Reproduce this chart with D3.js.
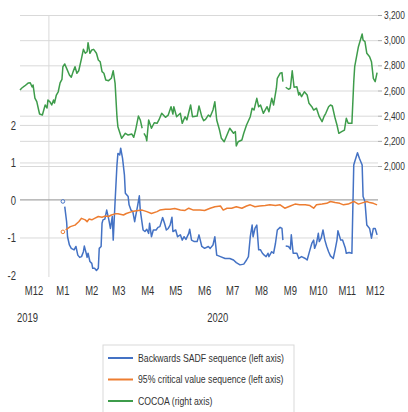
<!DOCTYPE html>
<html>
<head>
<meta charset="utf-8">
<script src="https://cdn.jsdelivr.net/npm/d3@7"></script>
<style>
  body { margin: 0; background: #fff; }
  text { font-family: "Liberation Sans", Arial, sans-serif; fill: #333; }
</style>
</head>
<body>
<div id="chart"></div>
<script>

// day numbers count from 1 Dec 2019
var origin = new Date(2019, 11, 1)
var lastDay = new Date(2020, 11, 19)

var monthLabels = ["M12","M1","M2","M3","M4","M5","M6","M7","M8","M9","M10","M11","M12"]
var monthTicks = ["2019-12-16","2020-01-16","2020-02-16","2020-03-16","2020-04-16","2020-05-16",
                  "2020-06-16","2020-07-16","2020-08-16","2020-09-16","2020-10-16","2020-11-16","2020-12-16"]
var yearLabels = ["2019","2020"]
var yearTicks = ["2019-12-09","2020-06-30"]
var yearBreak = "2020-01-01"

var leftTicks = [-2,-1,0,1,2]
var rightTicks = [2000,2200,2400,2600,2800,3000,3200]

var seriesNames = ["Backwards SADF sequence (left axis)","95% critical value sequence (left axis)","COCOA (right axis)"]

// Backwards SADF sequence, [day, value]
var sadf = [[46,-0.04],[47,null],[48,-0.18],[50,-0.58],[51,-0.98],[53,-1.2],[55,-1.29],[58,-1.33],[60,-1.24],
  [62,-1.47],[64,-1.53],[66,-1.51],[68,-1.38],[69,-1.23],[71,-1.42],[72,-1.53],[73,-1.42],[75,-1.64],[77,-1.69],
  [78,-1.82],[80,-1.82],[82,-1.88],[84,-1.82],[85,-1.29],[87,-1.24],[88,-0.62],[89,-0.53],[91,-0.51],[93,-0.27],
  [95,-0.49],[97,-0.76],[99,-0.44],[100,-1.07],[102,-0.04],[104,0.93],[105,1.24],[107,1.2],[108,1.38],[110,1.11],
  [112,0.67],[113,0.18],[116,0.09],[117,-0.13],[119,-0.27],[121,-0.31],[123,-0.58],[124,-0.44],[126,-0.18],
  [128,0.11],[129,-0.27],[132,-0.8],[134,-0.84],[136,-0.78],[138,-0.89],[139,-0.62],[141,-0.98],[143,-0.8],
  [146,-0.8],[148,-0.73],[150,-0.71],[153,-0.47],[155,-0.62],[157,-0.8],[159,-0.76],[161,-0.67],[163,-0.46],
  [164,-0.84],[167,-0.8],[169,-0.98],[172,-0.93],[174,-1.07],[176,-0.98],[178,-1.05],[181,-0.89],[182,-0.78],
  [184,-1.07],[187,-1.11],[190,-1.11],[192,-0.93],[195,-1.24],[198,-1.29],[202,-1.24],[204,-1.29],[207,-1.2],
  [209,-0.98],[211,-1.47],[215,-1.51],[220,-1.56],[225,-1.56],[229,-1.6],[232,-1.67],[236,-1.73],[240,-1.71],
  [243,-1.6],[245,-1.51],[247,-0.98],[249,-0.67],[250,-0.98],[252,-0.76],[254,-0.67],[256,-1.33],[258,-1.33],
  [260,-1.42],[262,-1.47],[264,-1.51],[266,-1.42],[267,-1.51],[270,-1.38],[272,-1.42],[274,-1.16],[276,-0.8],
  [279,-0.73],[281,-0.76],[282,-1.07],[283,null],[285,-1.23],[288,-1.24],[290,-1.31],[291,-0.93],[293,-1.42],
  [297,-1.42],[299,-1.56],[302,-1.51],[306,-1.56],[308,-1.6],[311,-1.33],[313,-1.16],[315,-1.07],[316,-1.29],
  [318,-1.16],[320,-0.89],[321,-1.11],[323,-1.02],[325,-0.8],[327,-1.07],[329,-1.24],[331,-1.38],[333,-1.49],
  [336,-1.56],[338,-1.33],[340,-1.07],[341,-0.82],[344,-1.07],[346,-1.07],[349,-1.29],[350,-1.42],[353,-1.4],
  [356,-1.42],[358,0.93],[359,1.02],[362,1.26],[364,1.11],[367,0.93],[368,0.09],[370,-0.04],[372,-0.67],
  [375,-0.76],[377,-1.02],[379,-0.76],[381,-0.76],[383,-0.93]]

// 95% critical value sequence, [day, value]
var critical = [[46,-0.85],[47,null],[49,-0.8],[54,-0.71],[59,-0.67],[63,-0.58],[66,-0.49],[70,-0.53],[72,-0.58],
  [74,-0.51],[77,-0.53],[80,-0.49],[84,-0.44],[88,-0.46],[91,-0.43],[95,-0.44],[98,-0.4],[102,-0.37],[105,-0.37],
  [111,-0.4],[114,-0.36],[120,-0.31],[125,-0.29],[131,-0.27],[136,-0.31],[141,-0.36],[147,-0.31],[150,-0.27],
  [156,-0.25],[161,-0.25],[166,-0.23],[172,-0.27],[177,-0.28],[181,-0.22],[186,-0.27],[191,-0.27],[193,-0.27],
  [198,-0.28],[204,-0.22],[209,-0.18],[215,-0.16],[218,-0.27],[222,-0.22],[227,-0.22],[232,-0.18],[238,-0.22],
  [243,-0.16],[247,-0.13],[252,-0.18],[257,-0.16],[263,-0.15],[268,-0.13],[274,-0.15],[279,-0.13],[284,-0.22],
  [290,-0.16],[295,-0.11],[300,-0.13],[306,-0.13],[311,-0.15],[315,-0.22],[318,-0.13],[324,-0.11],[329,-0.09],
  [333,-0.04],[338,-0.07],[343,-0.09],[347,-0.13],[352,-0.11],[358,-0.04],[363,-0.11],[368,-0.07],[372,-0.04],
  [375,-0.07],[379,-0.09],[383,-0.13]]

// COCOA price, [day, value]
var cocoa = [[0,2604],[2,2620],[5,2636],[9,2660],[11,2662],[13,2628],[14,2644],[16,2540],[18,2511],[20,2445],
  [21,2413],[24,2405],[27,2485],[29,2461],[30,2525],[32,2511],[34,2485],[36,2525],[37,2500],[39,2564],[41,2590],
  [43,2660],[45,2689],[46,2789],[48,2811],[50,2776],[53,2723],[55,2705],[57,2750],[59,2789],[61,2737],[63,2757],
  [66,2856],[68,2927],[70,2896],[72,2908],[73,2980],[75,2896],[77,2922],[79,2927],[82,2896],[84,2843],[86,2829],
  [88,2750],[90,2737],[92,2683],[95,2678],[98,2697],[100,2757],[102,2657],[104,2392],[105,2312],[109,2220],
  [113,2260],[116,2246],[120,2254],[122,2228],[124,2286],[127,2397],[129,2366],[131,2300],[132,null],[133,2260],
  [135,2233],[136,2201],[138,2366],[141,2300],[144,2344],[147,2339],[149,2366],[152,2419],[156,2387],[159,2405],
  [162,2471],[164,2413],[165,2471],[168,2392],[172,2419],[174,2339],[177,2392],[179,2366],[183,2485],[185,2392],
  [190,2397],[192,2477],[195,2392],[197,2360],[199,2371],[202,2405],[204,2392],[207,2445],[209,2511],[211,2366],
  [214,2286],[216,2220],[219,2193],[222,2246],[225,2300],[229,2260],[231,2273],[232,2159],[234,2193],[238,2207],
  [240,2260],[243,2326],[247,2392],[249,2459],[251,2445],[254,2538],[256,2471],[258,2485],[261,2419],[265,2471],
  [267,2431],[270,2538],[272,2485],[275,2618],[276,2697],[279,2737],[281,2742],[282,2670],[283,null],[285,2626],
  [288,2610],[290,2618],[292,2757],[294,2626],[297,2630],[299,2564],[300,2583],[302,2551],[305,2590],[308,2564],
  [310,2498],[313,2471],[315,2445],[318,2459],[321,2392],[324,2352],[326,2392],[328,2419],[331,2471],[333,2485],
  [335,2477],[338,2379],[340,2326],[342,2260],[345,2273],[348,2286],[350,2379],[352,2339],[356,2339],[358,2670],
  [359,2789],[363,2948],[367,3049],[368,3001],[370,2988],[372,2896],[375,2869],[377,2829],[379,2697],[381,2670],
  [383,2742]]


var margin = {top: 15, right: 30, bottom: 137, left: 20}
	,width  = 358
    ,height = 260

var colors = ["#4472c4", "#ed7d31", "#3e9c4b"]
var parse = d3.timeParse("%Y-%m-%d")

var x = d3.scaleTime()
	.domain([origin, lastDay])
	.range([0, width])

var yL = d3.scaleLinear()
	.domain([-2, 4.93])
	.range([height, 0])

var yR = d3.scaleLinear()
	.domain([1134, 3200])
	.range([height, 0])

var chart = d3.select('#chart')
	.append('svg')
	.attr('width', 408)
	.attr('height', 412)

var main = chart.append('g')
	.attr('transform', 'translate(' + margin.left + ',' + margin.top + ')')

// right-axis gridlines
main.append("g")
	.call(d3.axisRight(yR).tickValues(rightTicks).tickSize(width).tickFormat(""))
	.call(function(g) { g.select(".domain").remove() })
	.selectAll("line").attr("stroke", "#d9d9d9")

// left-axis gridlines (0 is the axis line)
main.append("g")
	.call(d3.axisRight(yL).tickValues([-1, 1, 2]).tickSize(width).tickFormat(""))
	.call(function(g) { g.select(".domain").remove() })
	.selectAll("line").attr("stroke", "#d9d9d9")

// year separator
main.append("line")
	.attr("x1", x(parse(yearBreak))).attr("x2", x(parse(yearBreak)))
	.attr("y1", 0).attr("y2", height + 2)
	.attr("stroke", "#d9d9d9")

main.append("line")
	.attr("x1", 0).attr("x2", width)
	.attr("y1", yL(0)).attr("y2", yL(0))
	.attr("stroke", "#a6a6a6").attr("stroke-width", 1.3)

// left axis
var ax = main.append("g")
	.call(d3.axisLeft(yL).tickValues(leftTicks).tickSize(0).tickPadding(4)
		.tickFormat(function(d) { return String(d) }))
ax.select(".domain").remove()
ax.selectAll("text")
	.attr("font-size", 13.5).attr("font-family", null).attr("fill", "#333")
	.attr("transform", "scale(0.7,1)")
	.attr("x", -4 / 0.7)

// right axis
var axR = main.append("g")
	.attr("transform", "translate(" + width + ",0)")
	.call(d3.axisRight(yR).tickValues(rightTicks).tickSize(4).tickPadding(2).tickFormat(d3.format(",")))
axR.select(".domain").remove()
axR.selectAll("line").attr("stroke", "#a6a6a6")
axR.selectAll("text")
	.attr("font-size", 11).attr("font-family", null).attr("fill", "#333")
	.attr("transform", "scale(0.76,1)")
	.attr("x", 6 / 0.76)

// month and year labels
main.selectAll(".month")
	.data(monthLabels)
	.enter().append("text")
	.attr("class", "month")
	.attr("text-anchor", "middle")
	.attr("font-size", 13.5)
	.attr("transform", function(d, i) { return "translate(" + x(parse(monthTicks[i])) + "," + (height + 20) + ") scale(0.7,1)" })
	.text(function(d) { return d })

main.selectAll(".year")
	.data(yearLabels)
	.enter().append("text")
	.attr("class", "year")
	.attr("text-anchor", "middle")
	.attr("font-size", 13.5)
	.attr("transform", function(d, i) { return "translate(" + x(parse(yearTicks[i])) + "," + (height + 47) + ") scale(0.7,1)" })
	.text(function(d) { return d })

// series
function drawSeries(data, y, color) {
	var line = d3.line()
		.defined(function(d) { return d[1] != null })
		.x(function(d) { return x(d3.timeDay.offset(origin, d[0])) })
		.y(function(d) { return y(d[1]) })

	main.append("path")
		.datum(data)
		.attr("fill", "none")
		.attr("stroke", color)
		.attr("stroke-width", 1.5)
		.attr("stroke-linejoin", "round")
		.attr("d", line)

	// lone points get a marker, as in the original
	var lone = data.filter(function(d, i) {
		var prev = data[i - 1], next = data[i + 1]
		return d[1] != null && (!prev || prev[1] == null) && (!next || next[1] == null)
	})
	main.selectAll(null)
		.data(lone)
		.enter().append("circle")
		.attr("cx", function(d) { return x(d3.timeDay.offset(origin, d[0])) })
		.attr("cy", function(d) { return y(d[1]) })
		.attr("r", 1.8)
		.attr("fill", "#fff")
		.attr("stroke", color)
		.attr("stroke-width", 1)
}

drawSeries(sadf, yL, colors[0])
drawSeries(critical, yL, colors[1])
drawSeries(cocoa, yR, colors[2])

// legend
var legend = chart.append("g").attr("transform", "translate(103,345)")
legend.append("rect")
	.attr("width", 191).attr("height", 72)
	.attr("fill", "#fff").attr("stroke", "#d9d9d9")

var item = legend.selectAll(".item")
	.data(seriesNames)
	.enter().append("g")
	.attr("class", "item")
	.attr("transform", function(d, i) { return "translate(0," + (13 + i * 21.5) + ")" })

item.append("line")
	.attr("x1", 5).attr("x2", 30)
	.attr("stroke", function(d, i) { return colors[i] })
	.attr("stroke-width", 2)

item.append("text")
	.attr("font-size", 10.5)
	.attr("dy", "0.35em")
	.attr("transform", "translate(35,0) scale(0.83,1)")
	.text(function(d) { return d })

</script>
</body>
</html>
